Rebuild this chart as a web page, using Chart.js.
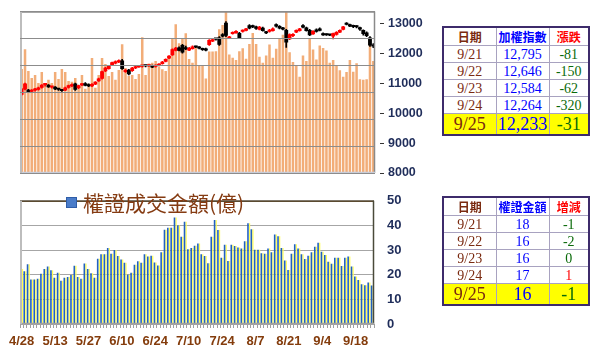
<!DOCTYPE html>
<html><head><meta charset="utf-8">
<script src="https://cdn.jsdelivr.net/npm/chart.js@4"></script>
<style>
html,body{margin:0;padding:0;background:#fff;width:600px;height:359px;overflow:hidden;position:relative}
#w1{position:absolute;left:0;top:0;width:440px;height:185px}
#w2{position:absolute;left:0;top:180px;width:440px;height:179px}
canvas{display:block}
.legend{position:absolute;left:66px;top:190px;font-family:"Noto Sans CJK TC",sans-serif;font-size:21px;line-height:25px;color:#853B12;display:flex;align-items:center;white-space:nowrap}
.legend .sw{width:9px;height:9px;background:#4A7CC9;border:1px solid #2F5DA8;margin-right:6px}
table.t{position:absolute;left:442px;width:146px;border-collapse:collapse;border:2px solid #3D2B6B;table-layout:fixed;background:#fff}
table.t td{border:1px solid #A8A2C0;text-align:center;padding:0;height:16px;line-height:15px;font-family:"Liberation Serif",serif;font-size:14px;overflow:hidden;white-space:nowrap}
table.t tr.h td{font-family:"Noto Sans CJK TC",sans-serif;font-weight:bold;font-size:12px;height:17px}
table.t tr.last td{background:#FFFF00;height:20px;font-size:18px;line-height:20px}
.c1{color:#7A2A10}.c2{color:#0000FF}.c3{color:#FF0000}.g{color:#0A6A0A}.r{color:#FF0000}
</style>
</head><body>
<div id="w1"><canvas id="top" width="440" height="185"></canvas></div>
<div id="w2"><canvas id="bot" width="440" height="179"></canvas></div>
<div class="legend"><span class="sw"></span><span id="legtxt"></span></div>
<table class="t" id="t1" style="top:26px"></table>
<table class="t" id="t2" style="top:196px"></table>
<script>
// ---- data ----
const dates = ["4/28","4/29","4/30","5/4","5/5","5/6","5/7","5/8","5/11","5/12","5/13","5/14","5/15","5/18","5/19","5/20","5/21","5/22","5/25","5/26","5/27","5/28","5/29","6/1","6/2","6/3","6/4","6/5","6/8","6/9","6/10","6/11","6/12","6/15","6/16","6/17","6/18","6/19","6/22","6/23","6/24","6/29","6/30","7/1","7/2","7/3","7/6","7/7","7/8","7/9","7/10","7/13","7/14","7/15","7/16","7/17","7/20","7/21","7/22","7/23","7/24","7/27","7/28","7/29","7/30","7/31","8/3","8/4","8/5","8/6","8/7","8/10","8/11","8/12","8/13","8/14","8/17","8/18","8/19","8/20","8/21","8/24","8/25","8/26","8/27","8/28","8/31","9/1","9/2","9/3","9/4","9/7","9/8","9/9","9/10","9/11","9/14","9/15","9/16","9/17","9/18","9/21","9/22","9/23","9/24","9/25"];
const openP  = [10615,10790,10780,10720,10760,10780,10850,10940,10950,10860,10880,10820,10790,10760,10850,10900,10990,10830,10930,11000,10960,10900,10960,11070,11150,11400,11480,11600,11660,11700,11760,11380,11450,11410,11500,11540,11560,11590,11570,11600,11555,11590,11645,11720,11830,11940,12090,12200,12280,12200,12100,12150,12220,12220,12170,12160,12280,12400,12480,12530,12640,13020,12500,12650,12680,12680,12720,12760,12940,12930,12900,12790,12860,12720,12720,12750,12970,12915,12850,12785,12474,12580,12695,12751,12940,12862,12784,12640,12800,12830,12673,12640,12630,12563,12620,12700,12790,13000,12970,12940,12900,12870,12780,12700,12530,12300];
const highP  = [10830,11010,10800,10790,10830,10870,10960,10980,10960,10900,10890,10830,10800,10870,10940,10980,11010,10940,10990,11020,10980,10990,11060,11170,11410,11530,11600,11710,11750,11780,11800,11460,11470,11530,11570,11580,11600,11610,11620,11610,11620,11660,11730,11820,11930,12150,12200,12220,12300,12240,12200,12250,12240,12230,12180,12180,12460,12490,12500,12560,12660,13060,12570,12720,12760,12700,12790,12840,12960,12950,12910,12900,12880,12740,12800,12850,12990,12930,12870,12800,12650,12660,12790,12840,12960,12880,12800,12760,12820,12850,12690,12650,12640,12680,12730,12790,12900,13030,12980,12950,12930,12880,12790,12720,12560,12330];
const lowP   = [10600,10780,10690,10700,10740,10770,10840,10900,10860,10840,10790,10760,10730,10750,10840,10890,10760,10820,10920,10910,10890,10890,10950,11060,11140,11390,11470,11590,11650,11690,11460,11360,11280,11400,11490,11530,11540,11550,11560,11520,11540,11580,11640,11710,11820,11930,12080,12080,12010,12120,12090,12140,12190,12150,12100,12080,12270,12390,12440,12270,12550,12560,12490,12640,12670,12490,12710,12750,12820,12860,12800,12780,12740,12660,12710,12740,12880,12820,12780,12195,12460,12560,12690,12740,12850,12740,12590,12630,12710,12750,12600,12600,12590,12480,12610,12690,12780,12950,12890,12860,12850,12770,12610,12560,12230,12190];
const closeP = [10815,10990,10710,10770,10820,10860,10950,10960,10870,10890,10800,10780,10740,10860,10930,10970,10780,10930,10980,10920,10900,10980,11050,11160,11400,11520,11590,11700,11740,11770,11480,11450,11300,11520,11560,11570,11590,11570,11600,11530,11610,11650,11720,11810,11920,12140,12190,12090,12030,12140,12180,12230,12200,12160,12110,12100,12450,12475,12460,12290,12560,12590,12560,12710,12750,12510,12780,12830,12830,12870,12820,12890,12750,12675,12785,12830,12895,12830,12800,12365,12640,12650,12784,12829,12862,12751,12607,12751,12720,12760,12607,12607,12600,12673,12718,12784,12895,12960,12900,12880,12876,12795,12646,12584,12264,12233];
const volume = [1932,2300,1895,1766,1822,1674,1877,1656,1730,1674,1877,1748,1932,1877,1711,1693,1766,1564,1822,1564,1656,2134,1582,1822,2134,2024,1803,1877,1730,1914,2392,1950,1803,1822,1748,1840,2521,1822,2036,2048,2079,1975,1926,1895,2134,2496,2765,2410,2502,2594,2116,2048,2324,1987,1987,1754,2258,2258,2263,2668,2747,3100,2202,2140,2098,2263,2318,2122,2398,2600,2398,2158,2048,2184,2386,2140,2306,2490,2570,3100,2245,2061,1987,1790,2184,2079,2508,2294,2110,2368,2324,2276,2048,2098,1987,1908,1790,1877,2098,1882,2037,1742,1730,1742,2497,2079];
const warrant = [22.3,21.4,24.2,18.1,18.1,18.4,20.4,22.3,23.3,21.8,18.8,20.8,17.6,18.8,19.1,19.9,23.6,19.1,18.4,24.6,22.3,20.6,18.8,26.5,28.3,28.3,30.8,28.5,30.0,27.6,26.2,24.9,20.0,20.8,24.0,25.5,24.9,28.3,27.4,27.7,25.0,23.7,29.1,38.3,39.1,39.1,43.2,40.0,35.4,41.5,30.3,30.8,31.8,32.7,28.3,27.6,24.7,35.4,42.2,38.1,26.9,32.2,25.6,32.2,31.7,31.0,30.6,33.6,40.9,38.5,30.1,30.1,28.7,28.5,30.6,29.1,36.3,35.6,30.8,25.8,21.9,28.5,32.4,30.6,28.3,26.4,27.7,29.1,31.4,33.0,29.3,28.0,25.3,24.5,26.9,26.9,23.5,26.9,27.4,23.3,19.3,17.9,16.1,15.7,16.8,15.6];
const indexTicks = [8000,9000,10000,11000,12000,13000];
const warrantTicks = [0,10,20,30,40,50];
const volumeGrid = [0,500,1000,1500,2000,2500,3000];
const xTickLabels = ["4/28","5/13","5/27","6/10","6/24","7/10","7/24","8/7","8/21","9/4","9/18"];
const legendLabel = "權證成交金額(億)";
// tables
const t1Head = ["日期","加權指數","漲跌"];
const t1Dates = ["9/21","9/22","9/23","9/24","9/25"];
const t1Index = ["12,795","12,646","12,584","12,264","12,233"];
const t1Chg = ["-81","-150","-62","-320","-31"];
const t2Head = ["日期","權證金額","增減"];
const t2Dates = ["9/21","9/22","9/23","9/24","9/25"];
const t2Amt = ["18","16","16","17","16"];
const t2Chg = ["-1","-2","0","1","-1"];

// ---- tables ----
function buildTable(id, head, d, v, c) {
  const t = document.getElementById(id);
  let h = '<colgroup><col style="width:53px"><col style="width:53px"><col style="width:40px"></colgroup>';
  h += '<tr class="h"><td class="c1">'+head[0]+'</td><td class="c2">'+head[1]+'</td><td class="c3">'+head[2]+'</td></tr>';
  for (let i=0;i<d.length;i++){
    const last = i===d.length-1;
    const cc = parseFloat(c[i])>0 ? 'r' : 'g';
    h += '<tr'+(last?' class="last"':'')+'><td class="c1">'+d[i]+'</td><td class="c2">'+v[i]+'</td><td class="'+cc+'">'+c[i]+'</td></tr>';
  }
  t.innerHTML = h;
}
buildTable('t1', t1Head, t1Dates, t1Index, t1Chg);
buildTable('t2', t2Head, t2Dates, t2Amt, t2Chg);
document.getElementById('legtxt').textContent = legendLabel;

// ---- border plugin ----
const frame = {
  id:'frame',
  afterDatasetsDraw(chart, args, o){
    const a = chart.chartArea, ctx = chart.ctx;
    ctx.save();
    const line=(x1,y1,x2,y2,col,w)=>{ctx.strokeStyle=col;ctx.lineWidth=w;ctx.beginPath();ctx.moveTo(x1,y1);ctx.lineTo(x2,y2);ctx.stroke();};
    line(a.left, a.top+0.5, a.right, a.top+0.5, o.top, 1.5);
    line(a.right-0.5, a.top, a.right-0.5, a.bottom, o.right, 1.5);
    line(a.left, a.bottom-0.5, a.right, a.bottom-0.5, o.bottom, 1.5);
    line(a.left+1, a.top, a.left+1, a.bottom, o.left, 2);
    ctx.restore();
  }
};
const setTicks = arr => s => { s.ticks = arr.map(v => ({value: v})); };

const isUp = i => closeP[i] >= openP[i];
const RED = '#FF0000', BLK = '#000000';

new Chart(document.getElementById('top'), {
  type:'bar',
  data:{
    labels: dates,
    datasets:[
      {label:'body', data: dates.map((d,i)=>[openP[i], closeP[i]]), yAxisID:'y1', grouped:false, order:1,
        backgroundColor: c=>isUp(c.dataIndex)?RED:BLK, barPercentage:1.15, categoryPercentage:1, minBarLength:2},
      {label:'wick', data: dates.map((d,i)=>[lowP[i], highP[i]]), yAxisID:'y1', grouped:false, order:2,
        backgroundColor: c=>isUp(c.dataIndex)?RED:BLK, barThickness:1},
      {label:'vol', data: volume, yAxisID:'y', grouped:false, order:3,
        backgroundColor:'#F2AD78', barPercentage:0.75, categoryPercentage:1}
    ]
  },
  options:{
    responsive:false, animation:false, devicePixelRatio:1,
    layout:{padding:{left:20, top:10, bottom:12, right:0}},
    plugins:{legend:{display:false}, tooltip:{enabled:false},
      frame:{top:'#8A8A8A', right:'#8A8A8A', bottom:'#C8CCD8', left:'#BDBDBD'}},
    scales:{
      x:{display:false, offset:true},
      y:{position:'left', min:0, max:3000, afterBuildTicks:setTicks(volumeGrid), ticks:{display:false},
         grid:{color:'#8C8C8C', lineWidth:1, drawTicks:false, z:1}, border:{display:false},
         afterFit:s=>{s.width=0;}},
      y1:{position:'right', min:8000, max:13400, afterBuildTicks:setTicks(indexTicks),
         ticks:{autoSkip:false, padding:4, color:'#1F2D5A',
           font:{family:'"Liberation Sans", Arial', weight:'bold', size:12.5},
           callback:v=>String(v)},
         grid:{drawOnChartArea:false, drawTicks:true, tickLength:9, tickColor:'#333', tickBorderDash:[0,5,4,100]},
         border:{display:false},
         afterFit:s=>{s.width=65;}}
    }
  },
  plugins:[frame]
});

new Chart(document.getElementById('bot'), {
  type:'bar',
  data:{
    labels: dates,
    datasets:[
      {label:legendLabel, data: warrant, backgroundColor:'#2160C2', barPercentage:1, categoryPercentage:0.95},
      {label:'shade', data: warrant, backgroundColor:'#FFFF55', barPercentage:0.8, categoryPercentage:0.95}
    ]
  },
  options:{
    responsive:false, animation:false, devicePixelRatio:1,
    layout:{padding:{left:20, top:13, bottom:0, right:0}},
    plugins:{legend:{display:false}, tooltip:{enabled:false},
      frame:{top:'#5A4A30', right:'#4A4A3A', bottom:'#A0A0A0', left:'#BDBDBD'}},
    scales:{
      x:{offset:true,
         ticks:{autoSkip:false, maxRotation:0, minRotation:0, padding:6, color:'#843C0C',
           font:{family:'"Liberation Sans", Arial', weight:'bold', size:13},
           callback:(v,i)=> xTickLabels.includes(dates[i]) ? dates[i] : ''},
         grid:{drawOnChartArea:false, drawTicks:true, tickLength:4, color:'#A0A0A0', offset:true},
         border:{display:false},
         afterFit:s=>{s.height=35;}},
      y:{position:'right', min:0, max:50, afterBuildTicks:setTicks(warrantTicks),
         ticks:{autoSkip:false, padding:13, color:'#1F2D5A', font:{family:'"Liberation Sans", Arial', weight:'bold', size:13}},
         grid:{color:'#A6A6A6', drawTicks:false}, border:{display:false},
         afterFit:s=>{s.width=66;}}
    }
  },
  plugins:[frame]
});
</script>
</body></html>
